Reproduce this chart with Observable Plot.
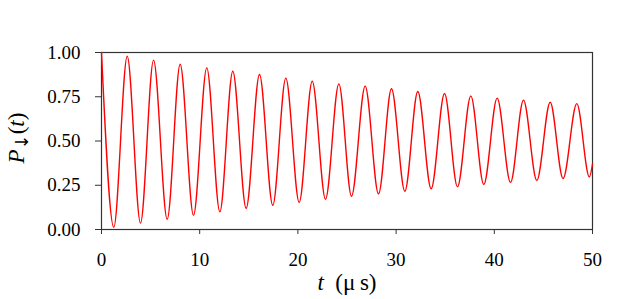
<!DOCTYPE html>
<html>
<head>
<meta charset="utf-8">
<script src="https://cdn.jsdelivr.net/npm/d3@7"></script>
<script src="https://cdn.jsdelivr.net/npm/@observablehq/plot@0.6"></script>
<style>
  html, body { margin: 0; padding: 0; background: #fff; }
</style>
</head>
<body>
<div id="chart"></div>
<script>
// Extrema (and end points) of P↓(t)
const tValues = [0, 1.25, 2.62, 3.97, 5.30, 6.69, 8.01, 9.37, 10.72, 12.05, 13.37, 14.73, 16.09, 17.44, 18.77, 20.13, 21.46, 22.81, 24.17, 25.46, 26.85, 28.21, 29.53, 30.89, 32.21, 33.57, 34.93, 36.25, 37.61, 38.93, 40.29, 41.65, 42.97, 44.33, 45.69, 47.00, 48.40, 49.68, 50];
const pValues = [1.0, 0.013, 0.979, 0.036, 0.957, 0.058, 0.934, 0.081, 0.913, 0.100, 0.894, 0.120, 0.876, 0.137, 0.855, 0.153, 0.838, 0.171, 0.823, 0.188, 0.810, 0.201, 0.795, 0.216, 0.780, 0.230, 0.768, 0.241, 0.755, 0.254, 0.742, 0.266, 0.731, 0.277, 0.719, 0.288, 0.711, 0.297, 0.37];
const xTicks = [0, 10, 20, 30, 40, 50];
const yTicks = [0, 0.25, 0.5, 0.75, 1.0];

const data = tValues.map((t, i) => ({t, p: pValues[i]}));

const plot = Plot.plot({
  width: 620,
  height: 299,
  marginLeft: 101,
  marginRight: 28,
  marginTop: 52,
  marginBottom: 70,
  style: {fontFamily: "'Liberation Serif', 'DejaVu Serif', serif", fontSize: "19px", color: "#000", background: "#fff"},
  x: {domain: [0, 50]},
  y: {domain: [0, 1]},
  marks: [
    Plot.frame({stroke: "#333", strokeWidth: 1.2}),
    Plot.axisX({ticks: xTicks, tickSize: 5, tickPadding: 18, label: null, fontSize: 19, stroke: "#333"}),
    Plot.axisY({ticks: yTicks, tickSize: 6, tickPadding: 15, tickFormat: d3.format(".2f"), label: null, fontSize: 19, stroke: "#333"}),
    Plot.line(data, {x: "t", y: "p", stroke: "#ff0000", strokeWidth: 1.4, curve: "monotone-x"})
  ]
});
document.getElementById("chart").appendChild(plot);

const svg = d3.select(plot);
// x axis label: t  (μ s)
const xl = svg.append("text")
  .attr("x", 347).attr("y", 290)
  .attr("text-anchor", "middle")
  .attr("font-family", "'Liberation Serif', serif")
  .attr("font-size", 23)
  .attr("fill", "#000");
xl.append("tspan").attr("font-style", "italic").text("t");
xl.append("tspan").text("\u00a0\u00a0(\u03bc\u2009s)");

// y axis label: P↓(t)
const yl = svg.append("text")
  .attr("transform", "translate(24,138) rotate(-90)")
  .attr("text-anchor", "middle")
  .attr("font-family", "'Liberation Serif', serif")
  .attr("font-size", 23)
  .attr("fill", "#000");
yl.append("tspan").attr("font-style", "italic").text("P");
yl.append("tspan").attr("dy", 4).attr("font-size", 18).attr("font-family", "'DejaVu Sans', sans-serif").text("\u2193");
yl.append("tspan").attr("dy", -4).text("(");
yl.append("tspan").attr("font-style", "italic").text("t");
yl.append("tspan").text(")");
</script>
</body>
</html>
